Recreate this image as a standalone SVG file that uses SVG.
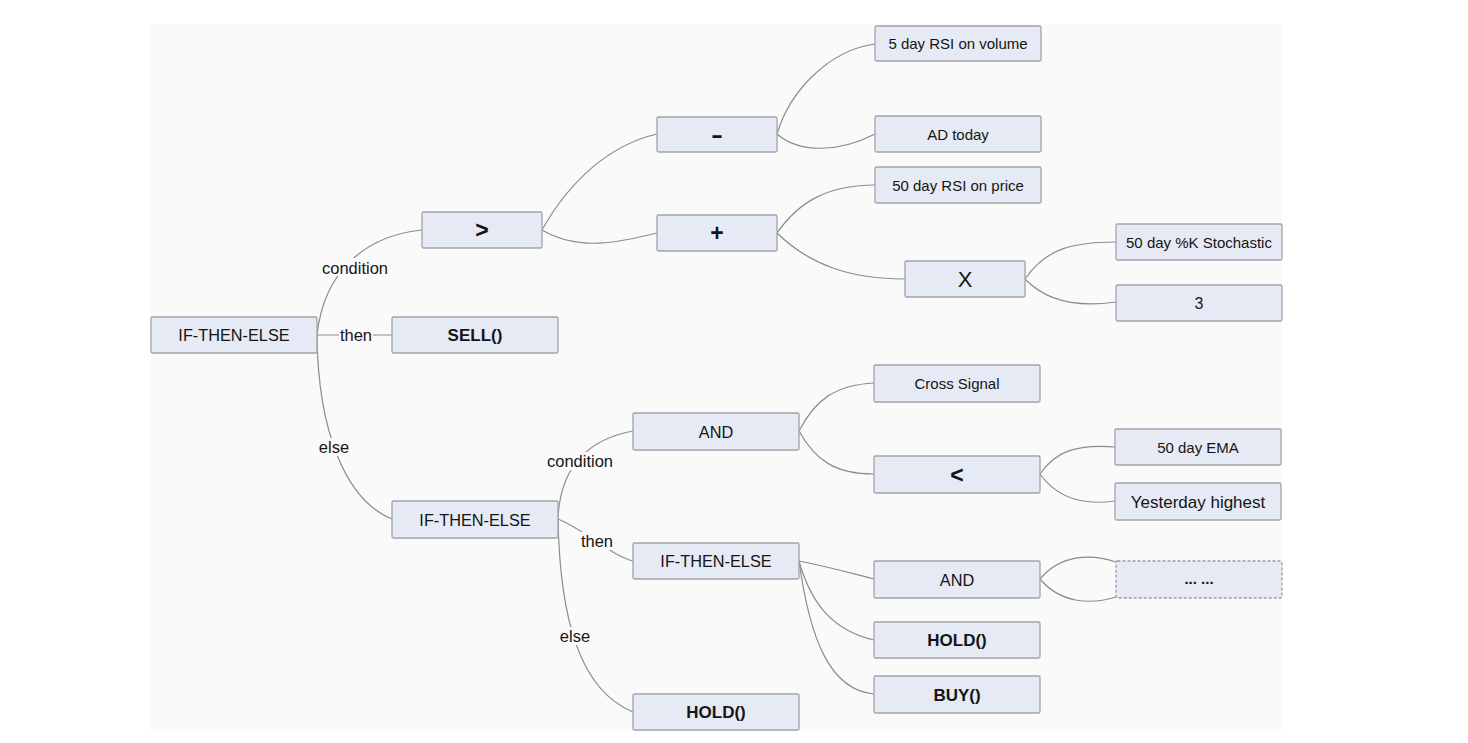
<svg xmlns="http://www.w3.org/2000/svg" width="1468" height="743" viewBox="0 0 1468 743">
<style>
.n rect{fill:#e6eaf4;stroke:#a2a4a8;stroke-width:1.3}
.n text{font-family:"Liberation Sans",Arial,sans-serif;fill:#151515;text-anchor:middle}
.s{font-size:15px}
.m{font-size:16.3px}
.b{font-size:17px;font-weight:bold}
.op{font-size:23px;font-weight:bold}
#edges path{fill:none;stroke:#8c8c8c;stroke-width:1.2}
.lb rect{fill:#fafafa;stroke:none}
.lb text{font-family:"Liberation Sans",Arial,sans-serif;font-size:16.5px;fill:#151515;text-anchor:middle}
</style>
<rect x="0" y="0" width="1468" height="743" fill="#ffffff"/>
<rect x="151" y="24" width="1131" height="707" fill="#fafafa"/>
<g id="edges">
<path d="M317,335 C324,272 364,236 422,230"/>
<path d="M317,335 L392,335"/>
<path d="M317,335 C318,430 345,500 392,519"/>
<path d="M542,230 C570,180 610,145 657,134"/>
<path d="M542,230 C580,252 620,242 657,233"/>
<path d="M777,134 C790,90 830,50 875,44"/>
<path d="M777,134 C800,154 840,152 875,134"/>
<path d="M777,233 C800,200 830,185 875,185"/>
<path d="M777,233 C810,265 850,279 905,279"/>
<path d="M1025,279 C1045,250 1070,242 1116,242"/>
<path d="M1025,279 C1045,300 1075,308 1116,302"/>
<path d="M558,519 C560,470 585,440 633,431"/>
<path d="M558,519 C585,530 610,555 633,561"/>
<path d="M558,519 C560,620 580,690 633,712"/>
<path d="M799,431 C815,400 835,385 874,383"/>
<path d="M799,431 C815,460 835,474 874,474"/>
<path d="M1040,474 C1055,452 1075,444 1115,447"/>
<path d="M1040,474 C1055,495 1080,506 1115,501"/>
<path d="M799,561 C830,567 850,573 874,579"/>
<path d="M799,561 C810,600 830,630 874,640"/>
<path d="M799,561 C810,640 830,690 874,694"/>
<path d="M1040,579 C1060,555 1090,553 1116,562"/>
<path d="M1040,579 C1060,603 1090,605 1116,597"/>
</g>
<g id="labels" class="lb">
<rect x="320" y="258" width="70" height="18"/><text x="355" y="274">condition</text>
<rect x="339" y="326" width="34" height="18"/><text x="356" y="341">then</text>
<rect x="318" y="438" width="32" height="18"/><text x="334" y="453">else</text>
<rect x="545" y="452" width="70" height="18"/><text x="580" y="467">condition</text>
<rect x="580" y="532" width="34" height="18"/><text x="597" y="547">then</text>
<rect x="559" y="627" width="32" height="18"/><text x="575" y="642">else</text>
</g>
<g id="n-root" class="n"><rect x="151" y="317" width="166" height="36" rx="1.5"/><text class="m" x="234" y="341">IF-THEN-ELSE</text></g>
<g id="n-gt" class="n"><rect x="422" y="212" width="120" height="36" rx="1.5"/><text class="op" x="482" y="238">&gt;</text></g>
<g id="n-sell" class="n"><rect x="392" y="317" width="166" height="36" rx="1.5"/><text class="b" x="475" y="341">SELL()</text></g>
<g id="n-minus" class="n"><rect x="657" y="117" width="120" height="35" rx="1.5"/><text class="op" x="717" y="143" textLength="12" lengthAdjust="spacingAndGlyphs">-</text></g>
<g id="n-plus" class="n"><rect x="657" y="215" width="120" height="36" rx="1.5"/><text class="op" x="717" y="241">+</text></g>
<g id="n-rsivol" class="n"><rect x="875" y="26" width="166" height="35" rx="1.5"/><text class="s" x="958" y="49">5 day RSI on volume</text></g>
<g id="n-ad" class="n"><rect x="875" y="116" width="166" height="36" rx="1.5"/><text class="s" x="958" y="139.5">AD today</text></g>
<g id="n-rsiprice" class="n"><rect x="875" y="167" width="166" height="36" rx="1.5"/><text class="s" x="958" y="190.5">50 day RSI on price</text></g>
<g id="n-x" class="n"><rect x="905" y="261" width="120" height="36" rx="1.5"/><text x="965" y="287" style="font-size:22px">X</text></g>
<g id="n-stoch" class="n"><rect x="1116" y="224" width="166" height="36" rx="1.5"/><text class="s" x="1199" y="247.5">50 day %K Stochastic</text></g>
<g id="n-3" class="n"><rect x="1116" y="285" width="166" height="36" rx="1.5"/><text x="1199" y="308.5" style="font-size:16px">3</text></g>
<g id="n-if2" class="n"><rect x="392" y="501" width="166" height="37" rx="1.5"/><text class="m" x="475" y="525.5">IF-THEN-ELSE</text></g>
<g id="n-and1" class="n"><rect x="633" y="413" width="166" height="37" rx="1.5"/><text class="m" x="716" y="437.5">AND</text></g>
<g id="n-if3" class="n"><rect x="633" y="543" width="166" height="36" rx="1.5"/><text class="m" x="716" y="567">IF-THEN-ELSE</text></g>
<g id="n-hold1" class="n"><rect x="633" y="694" width="166" height="36" rx="1.5"/><text class="b" x="716" y="718">HOLD()</text></g>
<g id="n-cross" class="n"><rect x="874" y="365" width="166" height="37" rx="1.5"/><text class="s" x="957" y="389">Cross Signal</text></g>
<g id="n-lt" class="n"><rect x="874" y="456" width="166" height="37" rx="1.5"/><text class="op" x="957" y="482.5">&lt;</text></g>
<g id="n-ema" class="n"><rect x="1115" y="429" width="166" height="36" rx="1.5"/><text class="s" x="1198" y="452.5">50 day EMA</text></g>
<g id="n-yest" class="n"><rect x="1115" y="483" width="166" height="37" rx="1.5"/><text x="1198" y="507.5" style="font-size:17px">Yesterday highest</text></g>
<g id="n-and2" class="n"><rect x="874" y="561" width="166" height="37" rx="1.5"/><text class="m" x="957" y="585.5">AND</text></g>
<g id="n-more" class="n"><rect x="1116" y="561" width="166" height="37" rx="1.5" style="stroke-dasharray:3 2;stroke:#9a9ca0"/><text class="s" x="1199" y="584" style="font-weight:bold">... ...</text></g>
<g id="n-hold2" class="n"><rect x="874" y="622" width="166" height="36" rx="1.5"/><text class="b" x="957" y="646">HOLD()</text></g>
<g id="n-buy" class="n"><rect x="874" y="676" width="166" height="37" rx="1.5"/><text class="b" x="957" y="700.5">BUY()</text></g>
</svg>
